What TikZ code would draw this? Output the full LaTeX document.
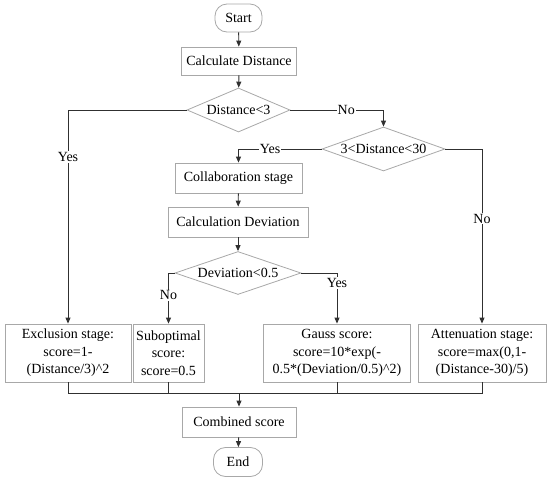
\documentclass[tikz,border=0pt]{standalone}
\usepackage{fontspec}
\setmainfont{Liberation Serif}
\usepackage{tikz}
\usepackage{xcolor}
\usetikzlibrary{arrows.meta,positioning,shapes,calc}
\definecolor{ink}{HTML}{303030}
\definecolor{rimgray}{HTML}{A8A8A8}
\tikzset{
  stepcard/.style={draw=rimgray,fill=white,line width=0.8pt,
                   align=center,inner sep=2pt,font=\fontsize{14}{17.5}\selectfont},
  termcard/.style={draw=rimgray,fill=white,line width=0.8pt,rounded corners=12pt,
                   align=center,inner sep=2pt,font=\fontsize{14}{17.5}\selectfont},
  choicecard/.style={draw=rimgray,fill=white,line width=0.8pt,shape=diamond,
                     aspect=2.6,inner sep=0pt,font=\fontsize{14}{17.5}\selectfont},
  grayarr/.style={-{Triangle[length=6pt,width=5pt]},line width=0.9pt,draw=ink},
  grayline/.style={line width=0.9pt,draw=ink},
  tag/.style={fill=white,inner sep=1pt,font=\fontsize{14}{17.5}\selectfont}
}
\begin{document}
\begin{tikzpicture}[x=1pt,y=-1pt]
    \path[use as bounding box] (0,0) rectangle (550,482);
    \node[termcard,minimum width=47pt,minimum height=28pt] (start) at (238.5,18) {Start};
    \node[stepcard,minimum width=115pt,minimum height=28pt] (calcdist) at (239,61) {Calculate Distance};
    \node[choicecard,minimum width=103pt,minimum height=44pt] (near) at (238.5,110) {Distance<3};
    \node[choicecard,minimum width=123pt,minimum height=44pt] (mid) at (383.5,149) {3<Distance<30};
    \node[stepcard,minimum width=127pt,minimum height=30pt] (collab) at (238.5,178) {Collaboration stage};
    \node[stepcard,minimum width=140pt,minimum height=30pt] (calcdev) at (238,222) {Calculation Deviation};
    \node[choicecard,minimum width=126pt,minimum height=43pt] (devtest) at (238,273) {Deviation<0.5};
    \node[stepcard,minimum width=126pt,minimum height=58pt] (exclude) at (68,353)
      {Exclusion stage:\\score=1-\\(Distance/3)\^{}2};
    \node[stepcard,minimum width=71pt,minimum height=58pt] (subopt) at (168.5,353)
      {Suboptimal\\score:\\score=0.5};
    \node[stepcard,minimum width=147pt,minimum height=58pt] (gauss) at (337,353)
      {Gauss score:\\score=10*exp(-\\0.5*(Deviation/0.5)\^{}2)};
    \node[stepcard,minimum width=128pt,minimum height=58pt] (atten) at (482,353)
      {Attenuation stage:\\score=max(0,1-\\(Distance-30)/5)};
    \coordinate (joinpt) at (239,393);
    \node[stepcard,minimum width=114pt,minimum height=30pt] (combined) at (239,422) {Combined score};
    \node[termcard,minimum width=49pt,minimum height=29pt] (finish) at (238,462) {End};
    % main line
    \draw[grayarr] (start) -- (calcdist);
    \draw[grayarr] (calcdist) -- (near);
    \draw[grayarr] (near.west) -| node[tag,pos=0.61] {Yes} (exclude.north);
    \draw[grayarr] (near.east) -| node[tag,pos=0.3] {No} (mid.north);
    \draw[grayarr] (mid.west) -| node[tag,pos=0.31] {Yes} (collab.north);
    \draw[grayarr] (mid.east) -| node[tag,pos=0.7] {No} (atten.north);
    \draw[grayarr] (collab) -- (calcdev);
    \draw[grayarr] (calcdev) -- (devtest);
    \draw[grayarr] (devtest.west) -| node[tag,pos=0.72] {No} (subopt.north);
    \draw[grayarr] (devtest.east) -| node[tag,pos=0.6] {Yes} (gauss.north);
    % merge
    \draw[grayline] (exclude.south) |- (joinpt);
    \draw[grayline] (subopt.south) |- (joinpt);
    \draw[grayline] (gauss.south) |- (joinpt);
    \draw[grayline] (atten.south) |- (joinpt);
    \draw[grayarr] (joinpt) -- (combined);
    \draw[grayarr] (combined) -- (finish);
  \end{tikzpicture}
\end{document}
